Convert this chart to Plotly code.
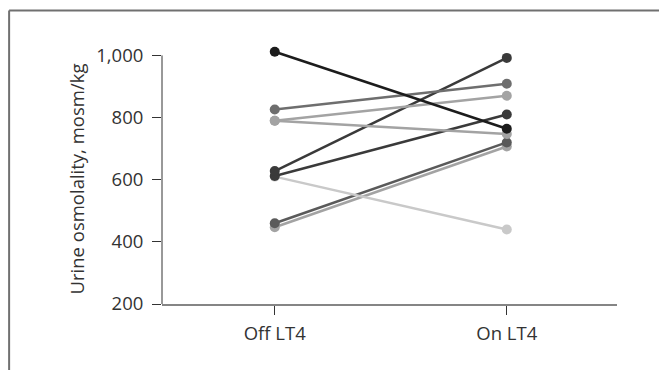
import plotly.graph_objects as go

categories = ["Off LT4", "On LT4"]
off_values = [447, 460, 610, 612, 628, 790, 790, 826, 1012]
on_values = [707, 720, 440, 810, 992, 747, 870, 909, 764]
line_colors = ["#a3a3a3", "#5a5a5a", "#c9c9c9", "#3a3a3a", "#3a3a3a",
               "#a3a3a3", "#a3a3a3", "#6e6e6e", "#1c1c1c"]
y_ticks = [200, 400, 600, 800, 1000]
y_title = "Urine osmolality, mosm/kg"

fig = go.Figure()
for a, b, c in zip(off_values, on_values, line_colors):
    fig.add_trace(go.Scatter(
        x=categories, y=[a, b], mode="lines+markers",
        line=dict(color=c, width=2.5),
        marker=dict(color=c, size=10),
        cliponaxis=False, showlegend=False, hoverinfo="skip"))

font = dict(family="Open Sans, DejaVu Sans, sans-serif", size=18.5, color="#333333")

fig.update_layout(
    width=659, height=362,
    margin=dict(l=154, r=50, t=35, b=66),
    paper_bgcolor="white", plot_bgcolor="white",
    font=font,
    xaxis=dict(type="category", range=[-0.486, 1.475],
               showline=True, linecolor="#858585", linewidth=2,
               ticks="outside", ticklen=9, tickcolor="#333333", tickwidth=1,
               showgrid=False, zeroline=False, tickfont=font,
               ticklabelstandoff=3),
    yaxis=dict(range=[200, 1040], tickvals=y_ticks, tickformat=",",
               showline=False, ticks="outside", ticklen=9,
               tickcolor="#333333", tickwidth=1, showgrid=False,
               zeroline=False, tickfont=font, ticklabelstandoff=5),
)

# y axis line only up to the 1,000 tick
fig.add_shape(type="line", xref="x domain", yref="y", x0=0, x1=0,
              y0=200, y1=1000, line=dict(color="#333333", width=1))

# outer frame (top and left edges)
fig.add_shape(type="line", xref="paper", yref="paper",
              x0=-0.336, x1=1.12, y0=1.1245, y1=1.1245,
              line=dict(color="#707070", width=2))
fig.add_shape(type="line", xref="paper", yref="paper",
              x0=-0.336, x1=-0.336, y0=1.1245, y1=-0.3,
              line=dict(color="#707070", width=2))

fig.add_annotation(text=y_title, xref="paper", yref="paper",
                   x=(76 - 162) / 455, y=(304 - 179.5) / 261,
                   textangle=-90, showarrow=False, font=font,
                   xanchor="center", yanchor="middle")

fig.write_html("out.html")
